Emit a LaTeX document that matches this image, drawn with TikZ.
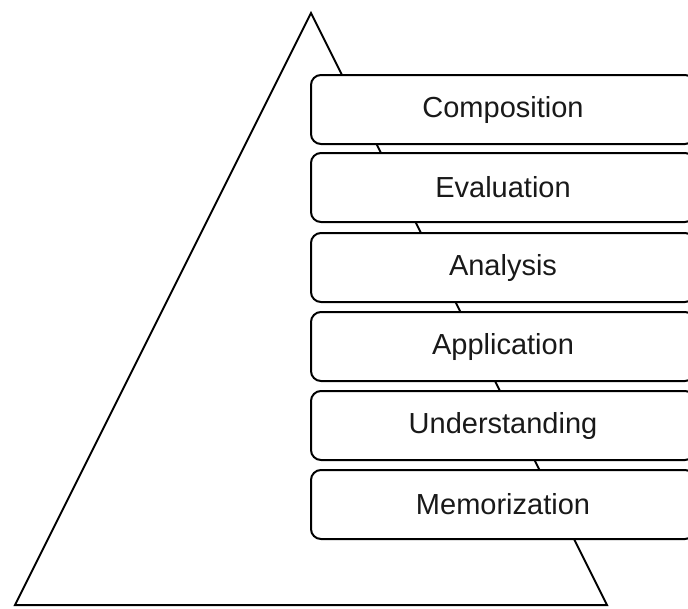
\documentclass[tikz,border=0pt]{standalone}
\usepackage{fontspec}
\setmainfont{Liberation Sans}
\begin{document}
\begin{tikzpicture}[x=1pt,y=-1pt,
  level/.style={draw=black, line width=2pt, fill=white, rounded corners=10pt,
    minimum width=384pt, minimum height=69pt, anchor=north west, inner sep=0pt,
    font=\fontsize{29}{34}\selectfont, text=black!90},
  pyr/.style={draw=black, line width=2pt, line join=miter}]
\clip (0,0) rectangle (688,608);
\coordinate (apex) at (311,13);
\coordinate (bl) at (15,605);
\coordinate (br) at (607,605);
\draw[pyr] (bl) -- (apex) -- (br) -- cycle;
\node[level] (c) at (310,74) {Composition};
\node[level] (e) at (310,152) {Evaluation};
\node[level] (a) at (310,232) {Analysis};
\node[level] (p) at (310,311) {Application};
\node[level] (u) at (310,390) {Understanding};
\node[level] (m) at (310,469) {Memorization};
\end{tikzpicture}
\end{document}
